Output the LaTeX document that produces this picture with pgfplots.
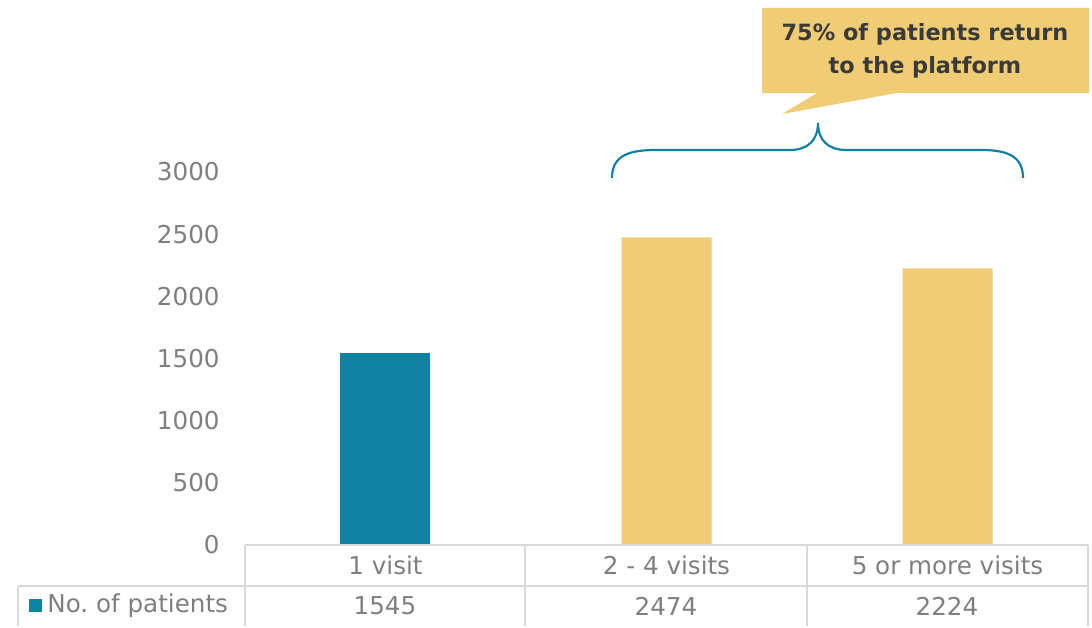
\documentclass[border=0pt]{standalone}
\usepackage{pgfplots}
\pgfplotsset{compat=1.18}
\usepackage{fontspec}
\setmainfont{DejaVu Sans}
\definecolor{teal1}{HTML}{1282A2}
\definecolor{yel1}{HTML}{F0CD74}
\definecolor{txtgray}{HTML}{7F7F7F}
\definecolor{dark1}{HTML}{3A3A3A}
\definecolor{grid1}{HTML}{D9D9D9}
\newcommand{\chartfont}{\fontsize{12.3}{14}\selectfont}
\frenchspacing
\begin{document}
\begin{tikzpicture}
\begin{scope}[shift={(-122.5pt,272.5pt)},x=0.5pt,y=-0.5pt]
\path[use as bounding box] (0,0) rectangle (1092,626);
\end{scope}
\begin{axis}[
  at={(0,0)}, anchor=south west,
  scale only axis, width=421.5pt, height=186.5pt,
  xmin=-0.5, xmax=2.5, ymin=0, ymax=3000,
  ybar, bar width=45pt, bar shift=0pt,
  axis line style={draw=none}, major tick length=0pt,
  ytick={0,500,...,3000},
  xtick={0,1,2},
  xticklabels={1 visit, 2 - 4 visits, 5 or more visits},
  tick label style={font=\chartfont, text=txtgray},
  /pgf/number format/assume math mode=true,
  /pgf/number format/1000 sep={},
  yticklabel style={anchor=east, inner sep=0pt, xshift=-12.5pt},
  xticklabel style={anchor=center, inner sep=0pt, yshift=-10pt},
  clip=false,
]
\addplot[fill=teal1, draw=none] coordinates {(0,1545)};
\addplot[fill=yel1, draw=none] coordinates {(1,2474) (2,2224)};
\end{axis}
\begin{scope}[shift={(-122.5pt,272.5pt)},x=0.5pt,y=-0.5pt]
% table lines
\draw[grid1, line width=1pt] (245,545) -- (1088,545);
\draw[grid1, line width=1pt] (18,586) -- (1088,586);
\draw[grid1, line width=1pt] (245,545) -- (245,626);
\draw[grid1, line width=1pt] (525,545) -- (525,626);
\draw[grid1, line width=1pt] (807,545) -- (807,626);
\draw[grid1, line width=1pt] (1088,545) -- (1088,626);
\draw[grid1, line width=1pt] (18,586) -- (18,626);
% legend key
\fill[teal1] (29,599) rectangle (42,612);
\node[anchor=west, inner sep=0pt, text=txtgray, font=\chartfont] at (47,606) {No. of patients};
\node[inner sep=0pt, text=txtgray, font=\chartfont] at (385,606) {1545};
\node[inner sep=0pt, text=txtgray, font=\chartfont] at (666,606) {2474};
\node[inner sep=0pt, text=txtgray, font=\chartfont] at (947,606) {2224};
% brace
\draw[teal1, line width=1.1pt] (612,178) .. controls (612,158) and (625,150) .. (655,150) -- (790,150)
  .. controls (808,150) and (818,140) .. (818,123)
  .. controls (818,140) and (828,150) .. (846,150) -- (982,150)
  .. controls (1010,150) and (1023,158) .. (1023,178);
% callout
\fill[yel1] (762,8) -- (1089,8) -- (1089,93) -- (897,93) -- (782,114) -- (817,93) -- (762,93) -- cycle;
\node[text=dark1, font=\bfseries\fontsize{11.2}{16.5}\selectfont, align=center, inner sep=0pt] at (925,51) {75\% of patients return\\to the platform};
\end{scope}
\end{tikzpicture}
\end{document}
